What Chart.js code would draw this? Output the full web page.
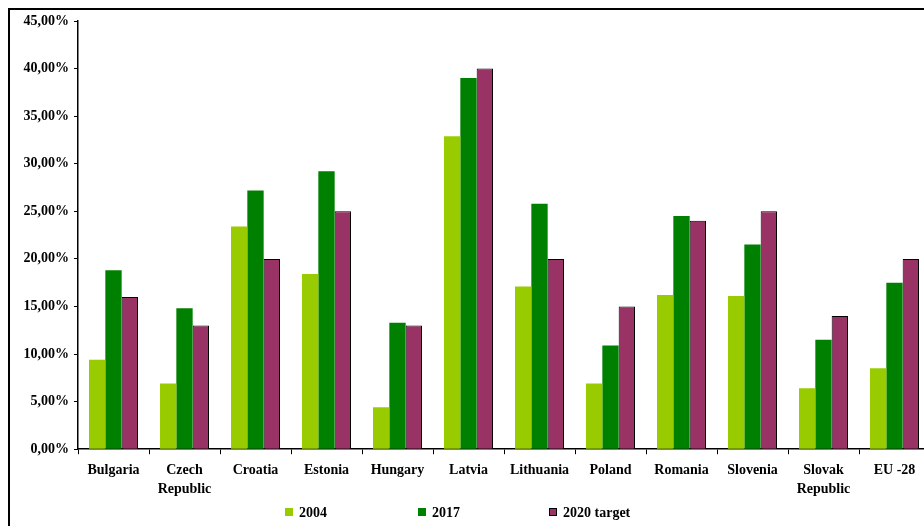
<!DOCTYPE html>
<html>
<head>
<meta charset="utf-8">
<script src="https://cdn.jsdelivr.net/npm/chart.js@4/dist/chart.umd.min.js"></script>
<style>
  html, body { margin: 0; padding: 0; background: #fff; overflow: hidden; width: 924px; height: 526px; }
  #frame { position: absolute; left: 8px; top: 8px; width: 1000px; height: 1000px; border: 2px solid #000; box-sizing: border-box; }
  #wrap { position: absolute; left: 0; top: 0; width: 940px; height: 526px; }
  #legend { position: absolute; top: 505px; left: 285px; font: bold 14px 'Liberation Serif', 'Times New Roman', serif; color: #000; }
  #legend span.item { position: absolute; white-space: nowrap; line-height: 16px; }
  #legend span.box { display: inline-block; width: 8px; height: 8px; margin-right: 6px; box-sizing: border-box; vertical-align: 1px; }
</style>
</head>
<body>
<div id="frame"></div>
<div id="wrap"><canvas id="chart"></canvas></div>
<div id="legend"></div>
<script>
const categories = ['Bulgaria', ['Czech', 'Republic'], 'Croatia', 'Estonia', 'Hungary', 'Latvia', 'Lithuania', 'Poland', 'Romania', 'Slovenia', ['Slovak', 'Republic'], 'EU -28'];
const seriesNames = ['2004', '2017', '2020 target'];
const share2004 = [9.4, 6.9, 23.4, 18.4, 4.4, 32.9, 17.1, 6.9, 16.2, 16.1, 6.4, 8.5];
const share2017 = [18.8, 14.8, 27.2, 29.2, 13.3, 39.0, 25.8, 10.9, 24.5, 21.5, 11.5, 17.5];
const target2020 = [16, 13, 20, 25, 13, 40, 20, 15, 24, 25, 14, 20];
const yTicks = [0, 5, 10, 15, 20, 25, 30, 35, 40, 45];

const colors = ['#99cc00', '#008000', '#993366'];
const font = { family: "'Liberation Serif', 'Times New Roman', serif", size: 14, weight: 'bold' };

new Chart(document.getElementById('chart'), {
  type: 'bar',
  data: {
    labels: categories,
    datasets: [
      {label: seriesNames[0], data: share2004, backgroundColor: colors[0], borderWidth: 0},
      {label: seriesNames[1], data: share2017, backgroundColor: colors[1], borderWidth: 0},
      {label: seriesNames[2], data: target2020, backgroundColor: colors[2], borderColor: '#000', borderWidth: 1}
    ]
  },
  options: {
    responsive: true,
    maintainAspectRatio: false,
    animation: false,
    datasets: { bar: { categoryPercentage: 0.69, barPercentage: 1 } },
    layout: { padding: { left: 0, right: 10, top: 21, bottom: 20 } },
    plugins: { legend: { display: false }, tooltip: { enabled: false } },
    scales: {
      x: {
        offset: true,
        grid: { offset: true, drawOnChartArea: false, tickLength: 5, color: '#000', lineWidth: 1 },
        border: { color: '#000', width: 1.5 },
        ticks: { color: '#000', font: { ...font, lineHeight: 1.35 }, padding: 7, maxRotation: 0, autoSkip: false }
      },
      y: {
        min: 0, max: 45,
        afterFit: (s) => { s.width = 78; },
        afterBuildTicks: (s) => { s.ticks = yTicks.map(v => ({value: v})); },
        grid: { drawOnChartArea: false, tickLength: 4, color: '#000', lineWidth: 1 },
        border: { color: '#000', width: 1.5 },
        ticks: { color: '#000', font, padding: 5, callback: (v) => v.toFixed(2).replace('.', ',') + '%' }
      }
    }
  }
});

// legend built from the series
const legend = document.getElementById('legend');
const legendOffsets = [0, 133, 264];
seriesNames.forEach((name, i) => {
  const item = document.createElement('span');
  item.className = 'item';
  item.style.left = legendOffsets[i] + 'px';
  const box = document.createElement('span');
  box.className = 'box';
  box.style.background = colors[i];
  if (i === 2) box.style.border = '1px solid #000';
  item.appendChild(box);
  item.appendChild(document.createTextNode(name));
  legend.appendChild(item);
});
</script>
</body>
</html>
